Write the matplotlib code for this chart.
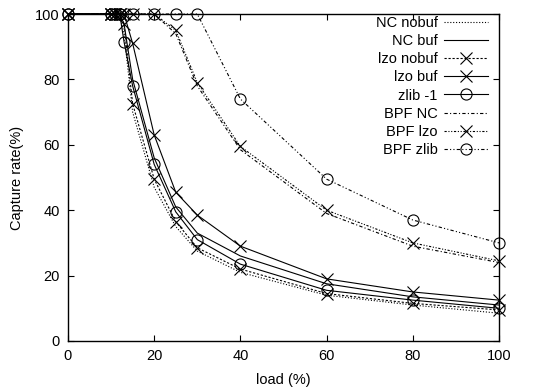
import matplotlib
matplotlib.use("Agg")
import matplotlib.pyplot as plt

plt.rcParams['font.family'] = ['Liberation Sans', 'DejaVu Sans']
plt.rcParams['font.size'] = 10.5

# data
x_main = [0, 10, 11, 12, 13, 15, 20, 25, 30, 40, 60, 80, 100]
nc_nobuf = [100, 100, 100, 100, 94, 70, 47, 35, 27.5, 21, 14, 11, 8.5]
nc_buf = [100, 100, 100, 100, 97, 80, 56, 41, 33, 26, 17.5, 13.5, 11]
lzo_nobuf = [100, 100, 100, 100, 97, 72.5, 49.5, 36.5, 28.5, 22, 14.5, 11.5, 9.5]
lzo_buf = [100, 100, 100, 100, 100, 91, 63, 45.5, 38.5, 29, 19, 15, 12.5]
zlib_1 = [100, 100, 100, 100, 91.5, 78, 54, 39.5, 31, 23.5, 15.5, 12.5, 10]

x_bpf = [0, 10, 12, 15, 20, 25, 30, 40, 60, 80, 100]
bpf_nc = [100, 100, 100, 100, 100, 94, 78, 58.5, 39, 29, 24]
bpf_lzo = [100, 100, 100, 100, 100, 95, 79, 59.5, 40, 30, 24.5]
bpf_zlib = [100, 100, 100, 100, 100, 100, 100, 74, 49.5, 37, 30]

x_ticks = [0, 20, 40, 60, 80, 100]
y_ticks = [0, 20, 40, 60, 80, 100]

fig = plt.figure(figsize=(5.51, 3.91), dpi=100)
ax = fig.add_axes([68/551, 1-341/391, (499-68)/551, (341-14)/391])

lw = 0.8
common = dict(color='black', lw=lw, clip_on=False, mew=0.8, ms=8)
ax.plot(x_main, nc_nobuf, ls=(0, (1, 1.6)), label='NC nobuf', **common)
ax.plot(x_main, nc_buf, ls='-', label='NC buf', **common)
ax.plot(x_main, lzo_nobuf, ls=(0, (2, 1.6)), marker='x', mfc='none', label='lzo nobuf', **common)
ax.plot(x_main, lzo_buf, ls='-', marker='x', mfc='none', label='lzo buf', **common)
ax.plot(x_main, zlib_1, ls='-', marker='o', mfc='none', label='zlib -1', **common)
ax.plot(x_bpf, bpf_nc, ls=(0, (3, 2, 1, 2)), label='BPF NC', **common)
ax.plot(x_bpf, bpf_lzo, ls=(0, (2, 1.5, 1, 1.5, 1, 1.5)), marker='x', mfc='none', label='BPF lzo', **common)
ax.plot(x_bpf, bpf_zlib, ls=(0, (3, 2, 1, 2, 1, 2)), marker='o', mfc='none', label='BPF zlib', **common)

ax.set_xlim(0, 100)
ax.set_ylim(0, 100)
ax.set_xticks(x_ticks)
ax.set_yticks(y_ticks)
ax.tick_params(direction='in', top=True, right=True, length=4, width=0.8, pad=6)
for s in ax.spines.values():
    s.set_linewidth(1.0)

ax.set_xlabel('load (%)', labelpad=7)
ax.set_ylabel('Capture rate(%)', labelpad=8)

leg = ax.legend(loc='upper right', bbox_to_anchor=(0.99, 1.015), frameon=False,
                markerfirst=False, handlelength=3.0, handletextpad=0.45,
                labelspacing=0.29, borderaxespad=0.25, borderpad=0.2)

fig.savefig('out.png', dpi=100)
